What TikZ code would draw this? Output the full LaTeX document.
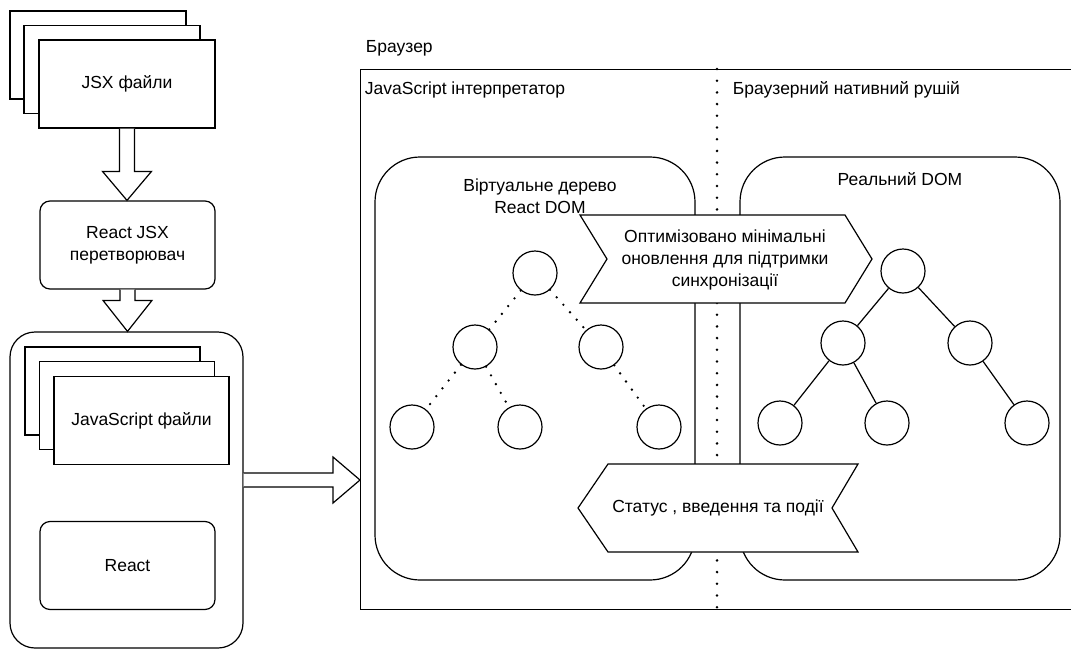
\documentclass[tikz,border=0pt]{standalone}
\usepackage{fontspec}
\setmainfont{Liberation Sans}
\usetikzlibrary{calc}

\begin{document}
\begin{tikzpicture}[align=center,x=1pt,y=-1pt,line width=1.2pt,font=\fontsize{17.5}{22}\selectfont]
\tikzstyle{sheet}=[draw,fill=white,minimum width=176pt,minimum height=88pt,inner sep=0pt]
\tikzstyle{rbox}=[draw,fill=white,rounded corners=10pt,minimum width=175pt,minimum height=88pt]
\tikzstyle{bigbox}=[draw,fill=white,rounded corners=45pt,minimum width=320pt,minimum height=423pt]
\tikzstyle{leaf}=[circle,draw,fill=white,minimum size=44pt,inner sep=0pt]
\tikzstyle{vlink}=[line width=2.6pt,dash pattern=on 0pt off 10pt,line cap=round]
\tikzstyle{rlink}=[line width=1.2pt]
\tikzstyle{divider}=[line width=2.8pt,dash pattern=on 0pt off 11.7pt,line cap=round]
\tikzstyle{blockarrow}=[draw,fill=white,line join=miter]
\tikzstyle{chevron}=[draw,fill=white,line join=miter]

\useasboundingbox (0,0) rectangle (1071,651);

\node[sheet] (jsx3) at (98,55) {};
\node[sheet] (jsx2) at (112,69.5) {};
\node[sheet] (jsx) at (127,84) {JSX файли};
\node[rbox] (conv) at (127.5,245) {React JSX\\перетворювач};

\node[draw,rounded corners=25pt,minimum width=233pt,minimum height=316pt] (bundle) at (126.5,490) {};
\node[sheet,minimum width=175pt] (js3) at (112.5,391) {};
\node[sheet,minimum width=175pt] (js2) at (127,405.5) {};
\node[sheet,minimum width=175pt] (js) at (141.5,420.5) {JavaScript файли};
\node[rbox] (react) at (127.5,565.5) {React};

\node[anchor=west] (browserlabel) at (362,48) {Браузер};
\node[draw,anchor=north west,minimum width=712pt,minimum height=540pt] (browser) at (360,69) {};
\coordinate (divtop) at (717,69);
\coordinate (divbot) at (717,609);
\draw[divider] (divtop) -- (divbot);
\node[anchor=west] (jslabel) at (361,90) {JavaScript інтерпретатор};
\node[anchor=west] (nativelabel) at (729,90) {Браузерний нативний рушій};

\node[bigbox] (vdom) at (535,368.5) {};
\node[bigbox] (rdom) at (900,368.5) {};
\node (vdomlabel) at (540,196) {Віртуальне дерево\\React DOM};
\node (rdomlabel) at (900,179) {Реальний DOM};

\node[leaf] (vroot) at (535,273) {};
\node[leaf] (vl) at (475,347) {};
\node[leaf] (vr) at (601,347) {};
\node[leaf] (vll) at (412,427) {};
\node[leaf] (vlr) at (520,427) {};
\node[leaf] (vrr) at (659,427) {};

\node[leaf] (rroot) at (903,271) {};
\node[leaf] (rl) at (843,343) {};
\node[leaf] (rr) at (970,343) {};
\node[leaf] (rll) at (780,423) {};
\node[leaf] (rlr) at (887,423) {};
\node[leaf] (rrr) at (1027,423) {};

\path
  (vroot) edge [vlink] (vl)
  (vroot) edge [vlink] (vr)
  (vl) edge [vlink] (vll)
  (vl) edge [vlink] (vlr)
  (vr) edge [vlink] (vrr)
  (rroot) edge [rlink] (rl)
  (rroot) edge [rlink] (rr)
  (rl) edge [rlink] (rll)
  (rl) edge [rlink] (rlr)
  (rr) edge [rlink] (rrr);

\draw[chevron] (580,215) -- (845,215) -- (872,259) -- (845,303) -- (580,303) -- (607,259) -- cycle;
\node (optim) at (725,260) {Оптимізовано мінімальні\\оновлення для підтримки\\синхронізації};
\draw[chevron] (608,464) -- (858,464) -- (832,508) -- (858,552) -- (608,552) -- (578,508) -- cycle;
\node (events) at (718,508) {Статус , введення та події};

\draw[blockarrow] let \p1=(jsx.south), \p2=(conv.north) in
  (\x1-7.5pt,\y1) -- (\x1-7.5pt,\y2+29pt) -- (\x1-24.5pt,\y2+29pt) -- (\x1,\y2)
  -- (\x1+24.5pt,\y2+29pt) -- (\x1+7.5pt,\y2+29pt) -- (\x1+7.5pt,\y1);
\draw[blockarrow] let \p1=(conv.south), \p2=(bundle.north) in
  (\x1-7.5pt,\y1) -- (\x1-7.5pt,\y2+31pt) -- (\x1-24.5pt,\y2+31pt) -- (\x1,\y2)
  -- (\x1+24.5pt,\y2+31pt) -- (\x1+7.5pt,\y2+31pt) -- (\x1+7.5pt,\y1);
\coordinate (feed) at ($(bundle.east)+(0,-10)$);
\draw[blockarrow] let \p1=(feed), \p2=(browser.west |- feed) in
  (\x1,\y1+7pt) -- (\x2-27pt,\y1+7pt) -- (\x2-27pt,\y1+23pt) -- (\x2,\y1)
  -- (\x2-27pt,\y1-23pt) -- (\x2-27pt,\y1-7pt) -- (\x1,\y1-7pt);
\end{tikzpicture}
\end{document}
